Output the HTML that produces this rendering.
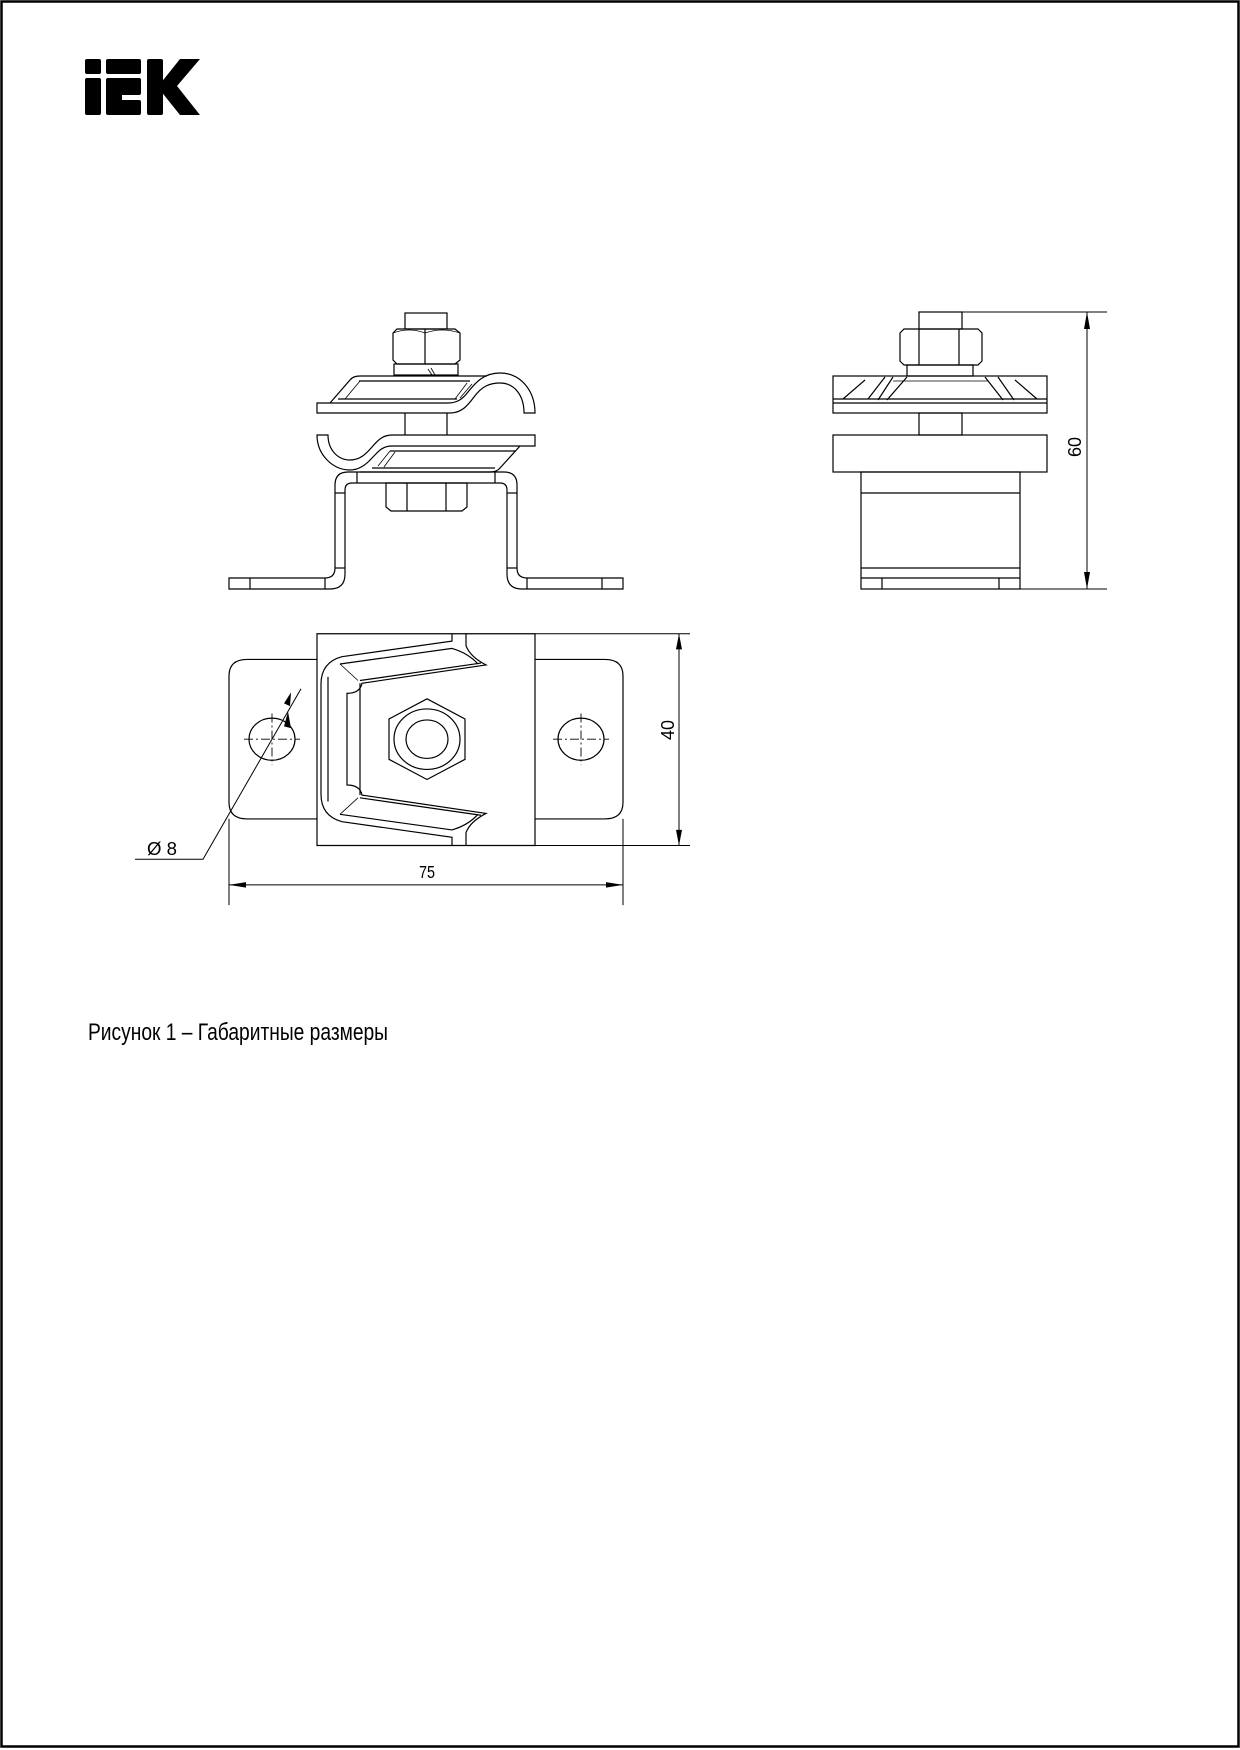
<!DOCTYPE html>
<html><head><meta charset="utf-8"><style>
html,body{margin:0;padding:0;background:#fff;}
svg{display:block;}
</style></head><body>
<svg width="1240" height="1750" viewBox="0 0 1240 1750" xmlns="http://www.w3.org/2000/svg">
<rect x="1.5" y="1.5" width="1237" height="1745" fill="none" stroke="#000" stroke-width="2.5"/>
<!-- logo -->
<g fill="#000">
<rect x="85" y="59" width="16" height="15" rx="2"/>
<rect x="85" y="78" width="16" height="37" rx="2"/>
<rect x="106" y="59" width="35" height="15" rx="2"/>
<rect x="106" y="78" width="35" height="17" rx="2"/>
<rect x="106" y="93" width="16" height="10"/>
<rect x="106" y="100" width="35" height="15" rx="2"/>
<rect x="147" y="59" width="16" height="56" rx="2"/>
<polygon points="160,84 180,59 200,59 177,86 200,115 180,115 160,90"/>
</g>
<g fill="none" stroke="#000" stroke-width="1.2">
<!-- FRONT VIEW -->
<rect x="405" y="313" width="42" height="16"/>
<path d="M393,333 L397,329 L455,329 L460,333 L460,360 L455,364 L397,364 L393,360 Z"/>
<line x1="425" y1="329" x2="425" y2="364"/>
<path d="M393,333 Q409,327 425,333 Q442,327 460,333" stroke-width="0.8"/>
<rect x="394" y="364" width="64" height="11"/>
<line x1="428" y1="369" x2="432" y2="375" stroke-width="0.8"/>
<line x1="431" y1="368" x2="435" y2="375" stroke-width="0.8"/>
<!-- upper plate -->
<path d="M317,403 L317,413 L450,413 C462,413 468,405 474,397 C482,386 490,383 500,383 C515,383 524,396 524,413 L535,413 C535,390 520,373 500,373 C484,373 476,382 468,392 C462,400 456,403 448,403 Z"/>
<path d="M330,403 L350,380 Q353,376 360,376 L487,376"/>
<line x1="359" y1="381" x2="470" y2="381"/>
<line x1="338" y1="399" x2="457" y2="399"/>
<line x1="345" y1="399" x2="360" y2="381" stroke-width="0.8"/>
<line x1="455" y1="399" x2="467" y2="383" stroke-width="0.8"/>
<line x1="460" y1="398" x2="472" y2="384" stroke-width="0.8"/>
<!-- shaft -->
<line x1="405" y1="413" x2="405" y2="435"/>
<line x1="447" y1="413" x2="447" y2="435"/>
<!-- lower plate -->
<path d="M535,435 L535,446 L392,446 C382,446 378,452 372,458 C365,466 358,470 350,470 C333,470 317,455 317,435 L328,435 C328,450 338,460 350,460 C360,460 366,454 372,447 C378,440 383,435 392,435 Z"/>
<path d="M520,446 L500,468 Q497,472 490,472 L360,472"/>
<line x1="390" y1="451" x2="515" y2="451"/>
<line x1="372" y1="468" x2="495" y2="468"/>
<line x1="378" y1="466" x2="390" y2="451" stroke-width="0.8"/>
<line x1="384" y1="467" x2="395" y2="452" stroke-width="0.8"/>
<!-- bracket -->
<path d="M229,578 L325,578 Q335,578 335,568 L335,485 Q335,472 348,472 L504,472 Q517,472 517,485 L517,568 Q517,578 527,578 L623,578 L623,589 L522,589 Q507,589 507,574 L507,490 Q507,483 500,483 L352,483 Q345,483 345,490 L345,574 Q345,589 330,589 L229,589 Z"/>
<line x1="250" y1="578" x2="250" y2="589"/>
<line x1="325" y1="578" x2="325" y2="589"/>
<line x1="527" y1="578" x2="527" y2="589"/>
<line x1="602" y1="578" x2="602" y2="589"/>
<line x1="335" y1="493" x2="345" y2="493"/>
<line x1="335" y1="568" x2="345" y2="568"/>
<line x1="507" y1="493" x2="517" y2="493"/>
<line x1="507" y1="568" x2="517" y2="568"/>
<line x1="357" y1="472" x2="357" y2="483"/>
<line x1="495" y1="472" x2="495" y2="483"/>
<!-- lower nut -->
<path d="M386,483 L467,483 L467,507 L462,511 L391,511 L386,507 Z"/>
<line x1="407" y1="483" x2="407" y2="511"/>
<line x1="446" y1="483" x2="446" y2="511"/>

<!-- SIDE VIEW -->
<line x1="919" y1="312" x2="1107" y2="312" stroke-width="1"/>
<line x1="1087" y1="312" x2="1087" y2="589" stroke-width="1"/>
<line x1="1020" y1="589" x2="1107" y2="589" stroke-width="1"/>
<rect x="919" y="312" width="43" height="17"/>
<path d="M900,333 L904,329 L978,329 L982,333 L982,361 L978,365 L904,365 L900,361 Z"/>
<line x1="919" y1="329" x2="919" y2="365"/>
<line x1="959" y1="329" x2="959" y2="365"/>
<rect x="907" y="365" width="66" height="11"/>
<rect x="833" y="376" width="214" height="37"/>
<line x1="833" y1="399" x2="1047" y2="399"/>
<line x1="833" y1="403" x2="1047" y2="403"/>
<path d="M893,377 L878,400 M907,377 L887,400 M885,377 L868,399 M865,380 L843,399 M985,377 L1003,400 M998,377 L1014,400 M1015,380 L1037,399"/>
<line x1="893" y1="381" x2="988" y2="381" stroke-width="0.8"/>
<rect x="919" y="413" width="43" height="22"/>
<rect x="833" y="435" width="214" height="37"/>
<rect x="861" y="472" width="159" height="117"/>
<line x1="861" y1="493" x2="1020" y2="493"/>
<line x1="861" y1="568" x2="1020" y2="568"/>
<line x1="861" y1="578" x2="1020" y2="578"/>
<line x1="882" y1="578" x2="882" y2="589"/>
<line x1="999" y1="578" x2="999" y2="589"/>
</g>

<!-- PLAN VIEW (vertically corrected) -->
<g transform="translate(0 51.67) scale(1 0.91667)">
<g fill="none" stroke="#000" stroke-width="1.2" vector-effect="non-scaling-stroke">
<path vector-effect="non-scaling-stroke" d="M317,663 L247,663 Q229,663 229,681 L229,819 Q229,837 247,837 L317,837"/>
<path vector-effect="non-scaling-stroke" d="M535,663 L605,663 Q623,663 623,681 L623,819 Q623,837 605,837 L535,837"/>
<rect vector-effect="non-scaling-stroke" x="317" y="635" width="218" height="231"/>
<line vector-effect="non-scaling-stroke" x1="535" y1="635" x2="690" y2="635" stroke-width="1"/>
<line vector-effect="non-scaling-stroke" x1="514" y1="866" x2="690" y2="866" stroke-width="1"/>
<line vector-effect="non-scaling-stroke" x1="679" y1="635" x2="679" y2="866" stroke-width="1"/>
<path vector-effect="non-scaling-stroke" d="M452,635 L452,643 L342,660 Q321,666 321,690 L321,810 Q321,834 342,840 L452,857 L452,866"/>
<path vector-effect="non-scaling-stroke" d="M466,635 L466,648 Q470,660 486,669 L362,689 Q360,700 347,700 L347,800 Q360,800 362,811 L486,831 Q470,840 466,852 L466,866"/>
<path vector-effect="non-scaling-stroke" d="M340,668 L452,651 Q468,656 478,668 M360,686 L481,667"/>
<path vector-effect="non-scaling-stroke" d="M340,832 L452,849 Q468,844 478,832 M360,814 L481,833"/>
<line vector-effect="non-scaling-stroke" x1="328" y1="682" x2="328" y2="818"/>
<line vector-effect="non-scaling-stroke" x1="360" y1="689" x2="360" y2="811"/>
<line vector-effect="non-scaling-stroke" x1="340" y1="668" x2="358" y2="686" stroke-width="0.8"/>
<line vector-effect="non-scaling-stroke" x1="340" y1="832" x2="358" y2="814" stroke-width="0.8"/>
<polygon vector-effect="non-scaling-stroke" points="427,706 465,728 465,772 427,794 389,772 389,728"/>
<circle vector-effect="non-scaling-stroke" cx="427" cy="750" r="33"/>
<circle vector-effect="non-scaling-stroke" cx="427" cy="750" r="21"/>
<circle vector-effect="non-scaling-stroke" cx="272" cy="750" r="23"/>
<circle vector-effect="non-scaling-stroke" cx="581" cy="750" r="23"/>
<polyline vector-effect="non-scaling-stroke" points="135,881 203,881 301,695" stroke-width="1"/>
<line vector-effect="non-scaling-stroke" x1="229" y1="837" x2="229" y2="931" stroke-width="1"/>
<line vector-effect="non-scaling-stroke" x1="623" y1="837" x2="623" y2="931" stroke-width="1"/>
<line vector-effect="non-scaling-stroke" x1="229" y1="909" x2="623" y2="909" stroke-width="1"/>
</g>
<g stroke="#000" stroke-width="0.9" stroke-dasharray="9,3,2,3" fill="none">
<line vector-effect="non-scaling-stroke" x1="244" y1="750" x2="300" y2="750"/>
<line vector-effect="non-scaling-stroke" x1="272" y1="722" x2="272" y2="778"/>
<line vector-effect="non-scaling-stroke" x1="553" y1="750" x2="609" y2="750"/>
<line vector-effect="non-scaling-stroke" x1="581" y1="722" x2="581" y2="778"/>
</g>
<g fill="#000">
<polygon points="229,909 246,906 246,912"/>
<polygon points="623,909 606,906 606,912"/>
<polygon points="679,635 676,652 682,652"/>
<polygon points="679,866 676,849 682,849"/>
<polygon points="288,720 284,736 291,738"/>
<polygon points="290,714 291,699 284,711"/>
</g>
</g>
<g fill="#000">
<polygon points="1087,312 1084,329 1090,329"/>
<polygon points="1087,589 1084,572 1090,572"/>
</g>
<g font-family="Liberation Sans, sans-serif" fill="#000">
<text x="427" y="878" font-size="18" text-anchor="middle" transform="translate(427 0) scale(0.8 1) translate(-427 0)">75</text>
<text x="147" y="855" font-size="18" textLength="30" lengthAdjust="spacingAndGlyphs">Ø 8</text>
<text transform="translate(674 730) rotate(-90)" font-size="18" text-anchor="middle">40</text>
<text transform="translate(1081 447) rotate(-90)" font-size="18" text-anchor="middle">60</text>
<text x="88" y="1040" font-size="24" textLength="300" lengthAdjust="spacingAndGlyphs">Рисунок 1 – Габаритные размеры</text>
</g>
</svg>
</body></html>
